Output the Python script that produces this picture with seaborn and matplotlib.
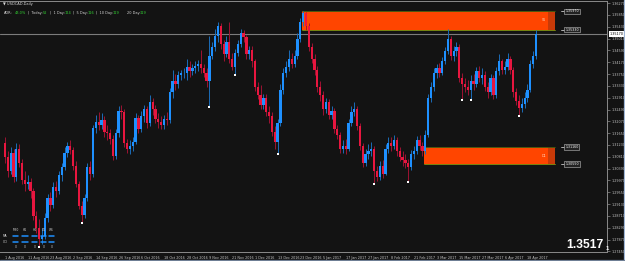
import numpy as np
import pandas as pd
import matplotlib
matplotlib.use("Agg")
import matplotlib.pyplot as plt
import matplotlib.transforms as mtransforms
from matplotlib.lines import Line2D
from matplotlib.patches import Rectangle
import seaborn as sns

# ---------------- data ----------------
first_open = 1.3130
closes = [
    1.3080, 1.3030, 1.3095, 1.3010, 1.3110, 1.3060, 1.3000, 1.2985,
    1.2990, 1.2960, 1.2870, 1.2830, 1.2790, 1.2800, 1.2865, 1.2935,
    1.2910, 1.2975, 1.2960, 1.3015, 1.3045, 1.3095, 1.3120, 1.3105,
    1.3050, 1.2985, 1.2905, 1.2875, 1.2935, 1.3045, 1.3020, 1.3185,
    1.3205, 1.3195, 1.3210, 1.3170, 1.3165, 1.3145, 1.3085, 1.3165,
    1.3245, 1.3240, 1.3130, 1.3110, 1.3120, 1.3135, 1.3220, 1.3180,
    1.3225, 1.3250, 1.3200, 1.3275, 1.3250, 1.3215, 1.3205, 1.3195,
    1.3215, 1.3212, 1.3310, 1.3350, 1.3340, 1.3370, 1.3378, 1.3380,
    1.3400, 1.3385, 1.3395, 1.3405, 1.3410, 1.3395, 1.3380, 1.3350,
    1.3440, 1.3470, 1.3510, 1.3545, 1.3480, 1.3445, 1.3490, 1.3430,
    1.3400, 1.3450, 1.3480, 1.3520, 1.3505, 1.3445, 1.3460, 1.3420,
    1.3330, 1.3300, 1.3265, 1.3290, 1.3240, 1.3225, 1.3170, 1.3135,
    1.3200, 1.3320, 1.3380, 1.3400, 1.3430, 1.3410, 1.3440, 1.3500,
    1.3560, 1.3590, 1.3545, 1.3470, 1.3430, 1.3390, 1.3330, 1.3300,
    1.3250, 1.3275, 1.3230, 1.3245, 1.3180, 1.3160, 1.3110, 1.3120,
    1.3110, 1.3200, 1.3240, 1.3250, 1.3190, 1.3120, 1.3060, 1.3090,
    1.3100, 1.3110, 1.3030, 1.3010, 1.3050, 1.3020, 1.3110, 1.3130,
    1.3120, 1.3140, 1.3100, 1.3080, 1.3070, 1.3060, 1.3045, 1.3090,
    1.3100, 1.3140, 1.3120, 1.3100, 1.3160, 1.3290, 1.3330, 1.3380,
    1.3395, 1.3380, 1.3420, 1.3455, 1.3500, 1.3440, 1.3455, 1.3470,
    1.3360, 1.3340, 1.3330, 1.3320, 1.3350, 1.3340, 1.3385, 1.3360,
    1.3370, 1.3330, 1.3310, 1.3360, 1.3300, 1.3385, 1.3420, 1.3390,
    1.3400, 1.3430, 1.3390, 1.3310, 1.3280, 1.3255, 1.3270, 1.3290,
    1.3320, 1.3410, 1.3440, 1.3517,
]
highs = [
    1.3150, 1.3100, 1.3115, 1.3110, 1.3130, 1.3125, 1.3075, 1.3030,
    1.3015, 1.3005, 1.2970, 1.2890, 1.2860, 1.2830, 1.2880, 1.2950,
    1.2955, 1.2990, 1.2995, 1.3030, 1.3060, 1.3115, 1.3135, 1.3140,
    1.3115, 1.3065, 1.2995, 1.2925, 1.2950, 1.3060, 1.3065, 1.3195,
    1.3230, 1.3240, 1.3235, 1.3225, 1.3195, 1.3180, 1.3160, 1.3180,
    1.3260, 1.3265, 1.3250, 1.3145, 1.3140, 1.3150, 1.3235, 1.3230,
    1.3245, 1.3265, 1.3260, 1.3300, 1.3290, 1.3265, 1.3235, 1.3225,
    1.3230, 1.3240, 1.3325, 1.3390, 1.3375, 1.3385, 1.3390, 1.3395,
    1.3430, 1.3420, 1.3410, 1.3420, 1.3425, 1.3460, 1.3410, 1.3395,
    1.3510, 1.3490, 1.3535, 1.3560, 1.3555, 1.3495, 1.3510, 1.3560,
    1.3450, 1.3465, 1.3495, 1.3535, 1.3530, 1.3515, 1.3475, 1.3475,
    1.3430, 1.3345, 1.3335, 1.3305, 1.3305, 1.3260, 1.3240, 1.3190,
    1.3215, 1.3340, 1.3395, 1.3420, 1.3460, 1.3450, 1.3460, 1.3520,
    1.3575, 1.3598, 1.3596, 1.3555, 1.3485, 1.3445, 1.3405, 1.3350,
    1.3315, 1.3290, 1.3285, 1.3260, 1.3255, 1.3195, 1.3170, 1.3140,
    1.3145, 1.3215, 1.3260, 1.3275, 1.3260, 1.3200, 1.3130, 1.3110,
    1.3125, 1.3135, 1.3120, 1.3050, 1.3065, 1.3070, 1.3125, 1.3150,
    1.3150, 1.3160, 1.3150, 1.3115, 1.3100, 1.3090, 1.3075, 1.3105,
    1.3120, 1.3155, 1.3160, 1.3135, 1.3175, 1.3305, 1.3345, 1.3395,
    1.3410, 1.3415, 1.3435, 1.3470, 1.3535, 1.3510, 1.3475, 1.3490,
    1.3480, 1.3380, 1.3360, 1.3355, 1.3370, 1.3375, 1.3400, 1.3405,
    1.3395, 1.3385, 1.3345, 1.3375, 1.3370, 1.3400, 1.3445, 1.3430,
    1.3420, 1.3450, 1.3440, 1.3400, 1.3325, 1.3300, 1.3290, 1.3310,
    1.3340, 1.3425, 1.3455, 1.3530,
]
lows = [
    1.3060, 1.3010, 1.3020, 1.2990, 1.2995, 1.3045, 1.2985, 1.2960,
    1.2965, 1.2935, 1.2855, 1.2810, 1.2765, 1.2770, 1.2790, 1.2850,
    1.2890, 1.2900, 1.2940, 1.2950, 1.2995, 1.3035, 1.3080, 1.3090,
    1.3035, 1.2975, 1.2895, 1.2850, 1.2865, 1.2925, 1.3000, 1.3010,
    1.3165, 1.3175, 1.3180, 1.3150, 1.3140, 1.3125, 1.3070, 1.3075,
    1.3150, 1.3215, 1.3115, 1.3095, 1.3090, 1.3100, 1.3125, 1.3165,
    1.3170, 1.3205, 1.3185, 1.3190, 1.3230, 1.3200, 1.3185, 1.3180,
    1.3180, 1.3195, 1.3200, 1.3290, 1.3320, 1.3325, 1.3355, 1.3360,
    1.3355, 1.3365, 1.3370, 1.3380, 1.3385, 1.3380, 1.3365, 1.3330,
    1.3262, 1.3430, 1.3455, 1.3490, 1.3465, 1.3420, 1.3435, 1.3415,
    1.3390, 1.3375, 1.3440, 1.3470, 1.3490, 1.3430, 1.3430, 1.3400,
    1.3315, 1.3285, 1.3250, 1.3250, 1.3225, 1.3200, 1.3155, 1.3110,
    1.3095, 1.3190, 1.3305, 1.3365, 1.3385, 1.3395, 1.3400, 1.3430,
    1.3490, 1.3545, 1.3530, 1.3455, 1.3415, 1.3370, 1.3310, 1.3280,
    1.3230, 1.3235, 1.3215, 1.3215, 1.3165, 1.3145, 1.3095, 1.3095,
    1.3090, 1.3100, 1.3190, 1.3225, 1.3175, 1.3105, 1.3045, 1.3050,
    1.3075, 1.3085, 1.2988, 1.2995, 1.3000, 1.3005, 1.3015, 1.3095,
    1.3100, 1.3110, 1.3085, 1.3065, 1.3050, 1.3040, 1.2995, 1.3035,
    1.3075, 1.3090, 1.3105, 1.3085, 1.3090, 1.3150, 1.3275, 1.3315,
    1.3360, 1.3365, 1.3370, 1.3410, 1.3445, 1.3425, 1.3420, 1.3440,
    1.3345, 1.3285, 1.3310, 1.3300, 1.3285, 1.3320, 1.3330, 1.3345,
    1.3340, 1.3315, 1.3290, 1.3300, 1.3285, 1.3290, 1.3370, 1.3375,
    1.3375, 1.3390, 1.3375, 1.3295, 1.3265, 1.3229, 1.3240, 1.3255,
    1.3275, 1.3310, 1.3395, 1.3430,
]
date_labels = [
    "1 Aug 2016", "11 Aug 2016", "23 Aug 2016", "2 Sep 2016", "14 Sep 2016",
    "26 Sep 2016", "6 Oct 2016", "18 Oct 2016", "28 Oct 2016", "9 Nov 2016",
    "21 Nov 2016", "1 Dec 2016", "13 Dec 2016", "23 Dec 2016", "5 Jan 2017",
    "17 Jan 2017", "27 Jan 2017", "8 Feb 2017", "21 Feb 2017", "3 Mar 2017",
    "15 Mar 2017", "27 Mar 2017", "6 Apr 2017", "18 Apr 2017",
]
date_bar_index = [0, 8, 16, 24, 32, 40, 48, 56, 64, 72, 80, 88, 96, 104,
                  112, 120, 128, 136, 144, 152, 160, 168, 176, 184]
price_ticks = [1.3627, 1.3585, 1.3543, 1.3501, 1.3459, 1.3417, 1.3375,
               1.3333, 1.3291, 1.3249, 1.3207, 1.3165, 1.3123, 1.3081,
               1.3039, 1.2997, 1.2955, 1.2913, 1.2871, 1.2829, 1.2787, 1.2745]
last_price = 1.3517
zone_names = ["S1", "D1"]
zone_start = [105, 148]
zone_top = [1.3597, 1.3116]
zone_bottom = [1.3533, 1.3055]
fractal_idx = [12, 27, 72, 81, 96, 130, 142, 161, 164, 181]
adr_labels = ["ADR:", "|  Today:", "|  1 Day:", "|  5 Day:", "|  10 Day:", "20 Day:"]
adr_values = ["43.0%", "52", "124", "116", "119", "119"]
panel_cols = ["M30", "H1", "H4", "D1", "W1"]
panel_rows = ["MA", "CCI"]
panel_vals = ["0", "0", "0", "0", "0"]

# ---------------- frame ----------------
opens = [first_open] + closes[:-1]
df = pd.DataFrame({"open": opens, "high": highs, "low": lows, "close": closes})
df["i"] = np.arange(len(df))
df["high"] = df[["high", "open", "close"]].max(axis=1)
df["low"] = df[["low", "open", "close"]].min(axis=1)
df["bull"] = df["close"] >= df["open"]

BG = "#131313"
W, H = 625, 261
sns.set_theme(style="dark", rc={"axes.facecolor": BG, "figure.facecolor": BG})
plt.rcParams["font.family"] = ["DejaVu Sans"]

fig = plt.figure(figsize=(W / 100, H / 100), dpi=100, facecolor=BG)
ax = fig.add_axes([0, 9 / H, 607 / W, 251 / H])
ax.set_facecolor(BG)
ax.set_xlim(-1.76, 212.0)
ax.set_ylim(1.27431, 1.36342)

BLUE, BLUE_W = "#1E90FF", "#1C6CB8"
RED, RED_W = "#E8163F", "#9E1232"

# current price line
ax.axhline(last_price, color="#7c7c7c", lw=0.8, zorder=1)

# zones
zone_end = 193.66
for name, s, t, b in zip(zone_names, zone_start, zone_top, zone_bottom):
    ax.add_patch(Rectangle((s - 0.4, b), zone_end - s, t - b, facecolor="#FF4500",
                           edgecolor="none", zorder=2))
    ax.add_patch(Rectangle((zone_end - 2.5, b), 2.5, t - b, facecolor="#C83A08",
                           edgecolor="none", zorder=2.1))
    ax.plot([s - 0.4, zone_end], [t, t], color="#2f5a10", lw=0.6, zorder=2.2)
    ax.plot([s - 0.4, zone_end], [b, b], color="#8a9a10", lw=0.6, zorder=2.2)
    ax.text(zone_end - 4.0, (t + b) / 2, name, color="#ffd9c0", fontsize=2.3,
            ha="center", va="center", zorder=3)
    for p in (t, b):
        ax.plot([195.8, 197.0], [p, p], color="#c8c8c8", lw=0.6, clip_on=False, zorder=3)
        ax.text(197.3, p, f"{p:.5f}", color="white", fontsize=2.3, ha="left", va="center",
                zorder=3, bbox=dict(facecolor="#222222", edgecolor="#bdbdbd", lw=0.4, pad=0.6))

# candles
for bull, grp in df.groupby("bull"):
    wc = BLUE_W if bull else RED_W
    bc = BLUE if bull else RED
    ax.vlines(grp["i"], grp["low"], grp["high"], color=wc, lw=0.7, zorder=4)
    h = (grp["close"] - grp["open"]).abs().clip(lower=0.00012)
    ax.bar(grp["i"], h, bottom=grp[["open", "close"]].min(axis=1), width=0.8,
           color=bc, edgecolor="none", zorder=5)

# fractal dots
fr = df.loc[fractal_idx]
sns.scatterplot(x=fr["i"], y=fr["low"] - 0.0004, ax=ax, marker="s", s=1.6,
                color="white", linewidth=0, zorder=6, legend=False)

# axes styling
ax.spines["left"].set_visible(False)
for side in ["top", "right", "bottom"]:
    ax.spines[side].set_visible(True)
    ax.spines[side].set_color("#8a8a8a")
    ax.spines[side].set_linewidth(0.7)
ax.yaxis.tick_right()
ax.set_yticks(price_ticks)
ax.set_yticklabels([f"{v:.5f}" for v in price_ticks])
ax.tick_params(axis="y", length=2, width=0.5, colors="#8a8a8a", labelcolor="#c4c4c4",
               labelsize=2.4, pad=1.2, direction="out")
ax.set_xticks(date_bar_index)
ax.set_xticklabels(date_labels, ha="left")
ax.tick_params(axis="x", length=2, width=0.5, colors="#8a8a8a", labelcolor="#c4c4c4",
               labelsize=2.4, pad=1.0, direction="out")
ax.set_xlabel("")
ax.set_ylabel("")
ax.grid(False)

# current price tag on the axis
tr = mtransforms.blended_transform_factory(ax.transAxes, ax.transData)
ax.text(1.004, last_price, f"{last_price:.5f}", transform=tr, color="black",
        fontsize=2.4, ha="left", va="center", clip_on=False, zorder=7,
        bbox=dict(facecolor="white", edgecolor="none", pad=0.5))


def fx(x):
    return x / W


def fy(y):
    return 1 - y / H


# header texts
fig.text(fx(3), fy(4), "\u25bc USDCAD,Daily", color="#d8d8d8", fontsize=2.6, va="center")
adr_lab_x = [4, 28, 50, 73, 96, 127]
adr_val_x = [15, 43, 65, 88, 113, 140]
for lx, vx, lab, val in zip(adr_lab_x, adr_val_x, adr_labels, adr_values):
    fig.text(fx(lx), fy(13), lab, color="#d8d8d8", fontsize=2.5, va="center")
    fig.text(fx(vx), fy(13), val, color="#33d633", fontsize=2.5, va="center")

# indicator panel
col_x = [15.5, 25, 34.5, 43.5, 51.5]
for cx, c, v in zip(col_x, panel_cols, panel_vals):
    fig.text(fx(cx), fy(230), c, color="#d0d0d0", fontsize=2.2, ha="center", va="center")
    fig.text(fx(cx), fy(247.5), v, color="#d0d0d0", fontsize=2.2, ha="center", va="center")
    for ry in (236, 241.7):
        fig.add_artist(Line2D([fx(cx - 2.8), fx(cx + 2.8)], [fy(ry), fy(ry)],
                              color=BLUE, lw=1.1, transform=fig.transFigure, zorder=8))
for ry, r in zip((236, 241.7), panel_rows):
    fig.text(fx(3), fy(ry), r, color="#d0d0d0", fontsize=2.2, va="center")

# big price
fig.text(fx(566), fy(245.5), "1.3517", color="white", fontsize=8.7, fontweight="bold",
         family="Liberation Sans", va="center", ha="left")
fig.text(fx(605.5), fy(248.5), "1", color="white", fontsize=4.3, fontweight="bold",
         family="Liberation Sans", va="center", ha="left")

# window border
fig.add_artist(Line2D([fx(623.5), fx(623.5)], [0, 1], color="#9fb6d6", lw=0.9,
                      transform=fig.transFigure))
fig.add_artist(Line2D([0, 1], [fy(259.5), fy(259.5)], color="#6f7f95", lw=0.9,
                      transform=fig.transFigure))

fig.savefig("out.png", dpi=100, facecolor=BG)
